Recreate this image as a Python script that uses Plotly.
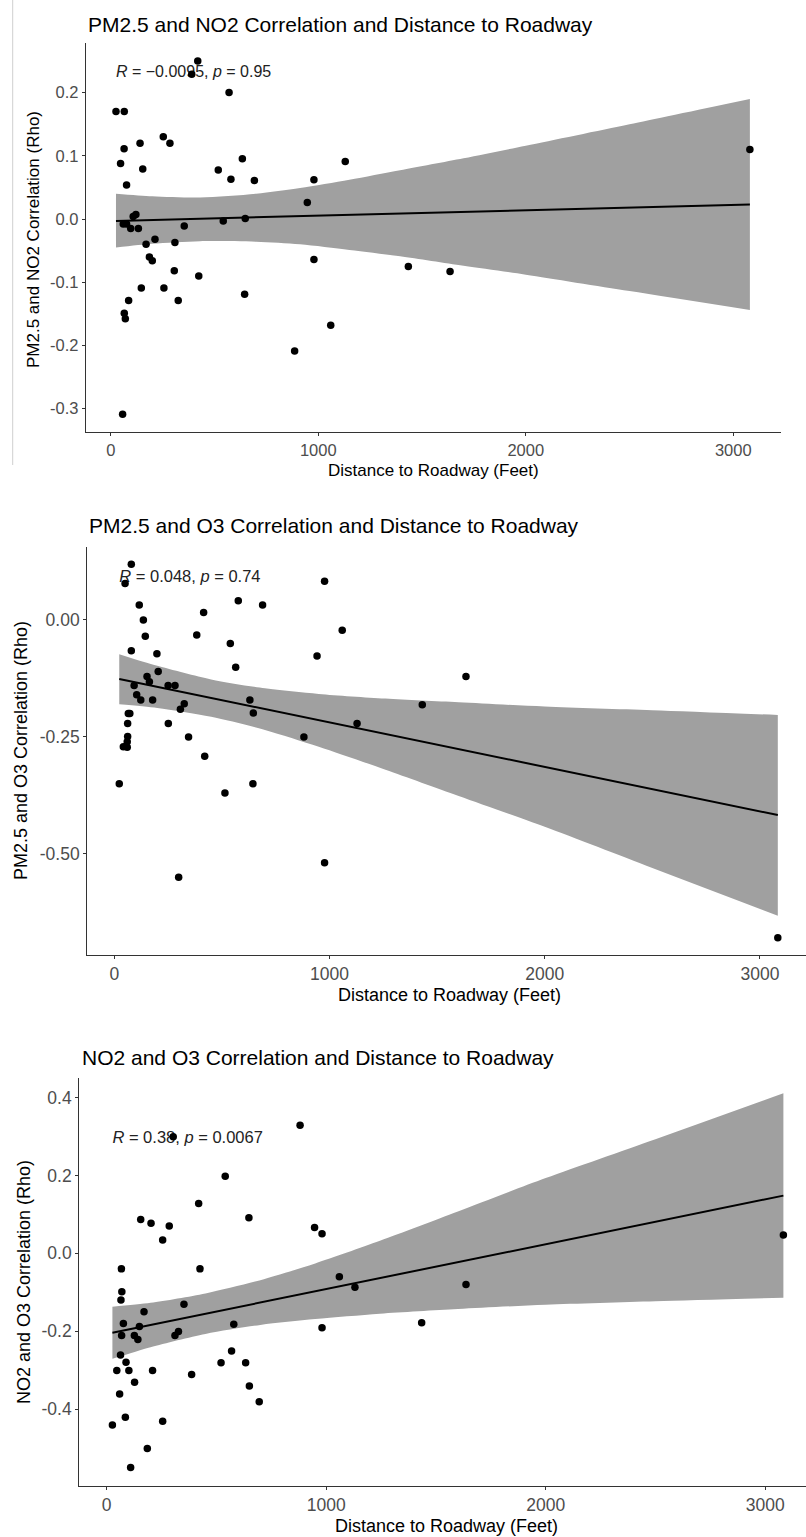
import plotly.graph_objects as go

W, H = 806, 1537

# ---------------- data ----------------
# Panel 1: PM2.5 and NO2
dist1 = [25, 65, 64, 47, 76, 141, 154, 253, 285, 390, 419, 570, 518, 634, 579, 692, 979, 947, 1130, 542,
         648, 354, 121, 108, 60, 76, 96, 133, 213, 170, 309, 186, 200, 979, 306, 424, 147, 256, 645, 86,
         325, 65, 70, 1060, 886, 57, 1434, 1635, 3080]
rho1 = [0.170, 0.170, 0.111, 0.088, 0.054, 0.120, 0.079, 0.130, 0.120, 0.229, 0.250, 0.200, 0.0775, 0.0955,
        0.063, 0.061, 0.062, 0.026, 0.091, -0.003, 0.001, -0.011, 0.007, 0.004, -0.008, -0.008, -0.015,
        -0.015, -0.032, -0.040, -0.037, -0.060, -0.066, -0.064, -0.082, -0.090, -0.109, -0.109, -0.119,
        -0.129, -0.129, -0.149, -0.158, -0.168, -0.209, -0.309, -0.075, -0.083, 0.110]
fit1_x = [25, 3080]
fit1_y = [-0.003, 0.023]
band1_x = [25, 200, 430, 700, 912, 1150, 1394, 1700, 2000, 2500, 3080]
band1_lo = [-0.045, -0.039, -0.035, -0.036, -0.040, -0.049, -0.059, -0.074, -0.088, -0.114, -0.144]
band1_hi = [0.040, 0.036, 0.034, 0.040, 0.049, 0.062, 0.077, 0.096, 0.116, 0.150, 0.190]
label1 = "<i>R</i> = \u22120.0095, <i>p</i> = 0.95"

# Panel 2: PM2.5 and O3
dist2 = [79, 50, 116, 135, 144, 79, 198, 204, 152, 163, 92, 104, 123, 178, 250, 282, 325, 307, 65, 62,
         62, 60, 42, 60, 251, 345, 420, 23, 514, 644, 299, 977, 383, 415, 576, 689, 539, 564, 630, 646,
         881, 942, 977, 1059, 1128, 1431, 1634, 3083, 72]
rho2 = [0.119, 0.078, 0.032, 0.000, -0.035, -0.066, -0.072, -0.110, -0.121, -0.132, -0.140, -0.160, -0.171,
        -0.171, -0.140, -0.140, -0.179, -0.191, -0.200, -0.221, -0.249, -0.260, -0.271, -0.272, -0.221,
        -0.250, -0.291, -0.350, -0.370, -0.350, -0.550, -0.519, -0.032, 0.016, 0.041, 0.032, -0.050,
        -0.101, -0.171, -0.199, -0.250, -0.077, 0.083, -0.022, -0.221, -0.181, -0.121, -0.679, -0.200]
fit2_x = [23, 3083]
fit2_y = [-0.126, -0.417]
band2_x = [23, 200, 450, 700, 950, 1260, 1600, 2000, 2500, 3083]
band2_lo = [-0.180, -0.188, -0.207, -0.235, -0.271, -0.320, -0.376, -0.442, -0.530, -0.632]
band2_hi = [-0.073, -0.098, -0.127, -0.146, -0.158, -0.168, -0.176, -0.185, -0.193, -0.203]
label2 = "<i>R</i> = 0.048, <i>p</i> = 0.74"

# Panel 3: NO2 and O3
dist3 = [881, 303, 540, 419, 648, 155, 202, 285, 255, 947, 981, 67, 425, 1060, 1131, 69, 65, 352, 170, 76,
         149, 579, 981, 68, 126, 142, 311, 327, 63, 569, 88, 521, 633, 46, 101, 209, 387, 127, 650, 59,
         695, 85, 255, 26, 185, 109, 1435, 1637, 3083]
rho3 = [0.329, 0.299, 0.198, 0.128, 0.091, 0.087, 0.077, 0.070, 0.034, 0.066, 0.050, -0.040, -0.040,
        -0.060, -0.087, -0.099, -0.120, -0.131, -0.150, -0.180, -0.188, -0.182, -0.191, -0.211, -0.211,
        -0.221, -0.211, -0.201, -0.261, -0.251, -0.280, -0.281, -0.281, -0.301, -0.301, -0.301, -0.311,
        -0.331, -0.341, -0.361, -0.381, -0.421, -0.431, -0.441, -0.501, -0.550, -0.178, -0.080, 0.047]
fit3_x = [26, 3083]
fit3_y = [-0.204, 0.148]
band3_x = [26, 200, 450, 700, 950, 1245, 1600, 2000, 2500, 3083]
band3_lo = [-0.271, -0.241, -0.207, -0.184, -0.169, -0.155, -0.143, -0.132, -0.123, -0.114]
band3_hi = [-0.137, -0.127, -0.103, -0.069, -0.026, 0.032, 0.107, 0.193, 0.293, 0.411]
label3 = "<i>R</i> = 0.38, <i>p</i> = 0.0067"

titles = ["PM2.5 and NO2 Correlation and Distance to Roadway",
          "PM2.5 and O3 Correlation and Distance to Roadway",
          "NO2 and O3 Correlation and Distance to Roadway"]
ytitles = ["PM2.5 and NO2 Correlation (Rho)",
           "PM2.5 and O3 Correlation (Rho)",
           "NO2 and O3 Correlation (Rho)"]
xtitle = "Distance to Roadway (Feet)"

x_tickvals = [0, 1000, 2000, 3000]
y1_tickvals = [-0.3, -0.2, -0.1, 0.0, 0.1, 0.2]
y1_ticktext = ["-0.3", "-0.2", "-0.1", "0.0", "0.1", "0.2"]
y2_tickvals = [-0.5, -0.25, 0.0]
y2_ticktext = ["-0.50", "-0.25", "0.00"]
y3_tickvals = [-0.4, -0.2, 0.0, 0.2, 0.4]
y3_ticktext = ["-0.4", "-0.2", "0.0", "0.2", "0.4"]

# ---------------- layout geometry (pixels) ----------------
FONT = "Liberation Sans, Arial, sans-serif"
panels = [
    dict(d=dist1, r=rho1, fx=fit1_x, fy=fit1_y, bx=band1_x, blo=band1_lo, bhi=band1_hi, label=label1,
         label_y=0.231, yv=y1_tickvals, yt=y1_ticktext,
         left=86, right=781, top=43, bottom=432, xr=[-119.5, 3230], yr=[-0.337, 0.2785],
         title_xy=(86, 25), xt_xy=(433.5, 470), yt_xy=(33, 240), fs_tick=16.5, fs_ax=17, fs_lab=16),
    dict(d=dist2, r=rho2, fx=fit2_x, fy=fit2_y, bx=band2_x, blo=band2_lo, bhi=band2_hi, label=label2,
         label_y=0.089, yv=y2_tickvals, yt=y2_ticktext,
         left=87.3, right=806, top=547, bottom=955, xr=[-125.5, 3214], yr=[-0.716, 0.156],
         title_xy=(87, 525), xt_xy=(449, 995), yt_xy=(21, 751), fs_tick=17.5, fs_ax=18, fs_lab=16.5),
    dict(d=dist3, r=rho3, fx=fit3_x, fy=fit3_y, bx=band3_x, blo=band3_lo, bhi=band3_hi, label=label3,
         label_y=0.295, yv=y3_tickvals, yt=y3_ticktext,
         left=79.3, right=806, top=1078, bottom=1486, xr=[-124.8, 3186], yr=[-0.5974, 0.450],
         title_xy=(80, 1057), xt_xy=(447, 1526), yt_xy=(24, 1282), fs_tick=17.5, fs_ax=18, fs_lab=16.5),
]

fig = go.Figure()
annotations = []
layout_axes = {}

for i, p in enumerate(panels, start=1):
    xa = "x" if i == 1 else f"x{i}"
    ya = "y" if i == 1 else f"y{i}"
    # confidence band: lower edge, then upper edge filled down to it
    fig.add_trace(go.Scatter(x=p["bx"], y=p["blo"], mode="lines",
                             line=dict(width=0, color="rgba(0,0,0,0)", shape="spline", smoothing=0.8),
                             hoverinfo="skip", showlegend=False, xaxis=xa, yaxis=ya))
    fig.add_trace(go.Scatter(x=p["bx"], y=p["bhi"], mode="lines", fill="tonexty", fillcolor="#a0a0a0",
                             line=dict(width=0, color="rgba(0,0,0,0)", shape="spline", smoothing=0.8),
                             hoverinfo="skip", showlegend=False, xaxis=xa, yaxis=ya))
    # regression line
    fig.add_trace(go.Scatter(x=p["fx"], y=p["fy"], mode="lines", line=dict(color="black", width=2),
                             showlegend=False, xaxis=xa, yaxis=ya))
    # correlation label (drawn under the points, as in the original)
    fig.add_trace(go.Scatter(x=[min(p["d"])], y=[p["label_y"]], mode="text", text=[p["label"]],
                             textposition="middle right",
                             textfont=dict(family=FONT, size=p["fs_lab"], color="#222222"),
                             showlegend=False, xaxis=xa, yaxis=ya))
    # points
    fig.add_trace(go.Scatter(x=p["d"], y=p["r"], mode="markers",
                             marker=dict(color="black", size=7.5, line=dict(width=0)),
                             showlegend=False, xaxis=xa, yaxis=ya))

    axis_common = dict(showline=True, linecolor="#333333", linewidth=1.3, ticks="outside", ticklen=3,
                       tickwidth=1.1, tickcolor="#333333", showgrid=False, zeroline=False,
                       tickfont=dict(family=FONT, size=p["fs_tick"], color="#4d4d4d"))
    layout_axes["xaxis" if i == 1 else f"xaxis{i}"] = dict(
        domain=[p["left"] / W, p["right"] / W], range=p["xr"], anchor=ya,
        tickmode="array", tickvals=x_tickvals, ticktext=[str(v) for v in x_tickvals], **axis_common)
    layout_axes["yaxis" if i == 1 else f"yaxis{i}"] = dict(
        domain=[1 - p["bottom"] / H, 1 - p["top"] / H], range=p["yr"], anchor=xa,
        tickmode="array", tickvals=p["yv"], ticktext=p["yt"], **axis_common)

    tx, ty = p["title_xy"]
    annotations.append(dict(text=titles[i - 1], xref="paper", yref="paper", x=tx / W, y=1 - ty / H,
                            xanchor="left", yanchor="middle", showarrow=False,
                            font=dict(family=FONT, size=21, color="black")))
    ax_, ay_ = p["xt_xy"]
    annotations.append(dict(text=xtitle, xref="paper", yref="paper", x=ax_ / W, y=1 - ay_ / H,
                            xanchor="center", yanchor="middle", showarrow=False,
                            font=dict(family=FONT, size=p["fs_ax"], color="black")))
    yx_, yy_ = p["yt_xy"]
    annotations.append(dict(text=ytitles[i - 1], xref="paper", yref="paper", x=yx_ / W, y=1 - yy_ / H,
                            xanchor="center", yanchor="middle", textangle=-90, showarrow=False,
                            font=dict(family=FONT, size=p["fs_ax"], color="black")))

fig.update_layout(
    width=W, height=H, margin=dict(l=0, r=0, t=0, b=0),
    paper_bgcolor="white", plot_bgcolor="white",
    showlegend=False, annotations=annotations,
    shapes=[dict(type="line", xref="paper", yref="paper", x0=12.7 / W, x1=12.7 / W,
                 y0=1.0, y1=1 - 465 / H, line=dict(color="#cfcfcf", width=1))],
    **layout_axes,
)

fig.write_html("out.html")
